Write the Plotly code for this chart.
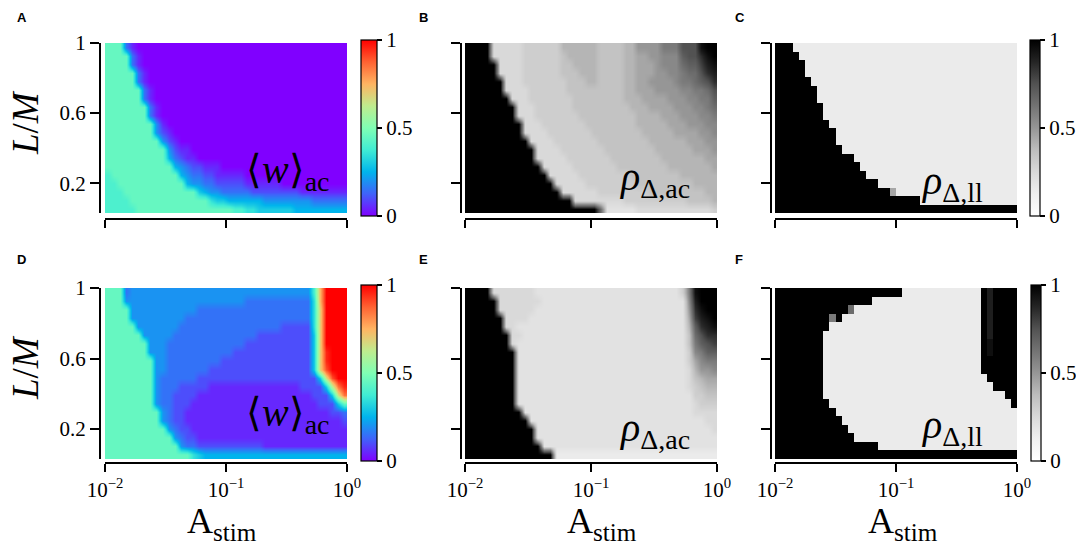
import numpy as np
import plotly.graph_objects as go

W, H = 1084, 544
OFF = 8  # the page puts the figure 8 px in from the top left corner
SERIF = "Liberation Serif"
SANS = "Liberation Sans"

# grid of the simulations: log10(A_stim) and L/M, cell edges
a_stim_edges = np.linspace(-2, 0, 41)
lm_edges = np.linspace(0.03, 1.0, 21)

x_ticks = ["10<sup>\u22122</sup>", "10<sup>\u22121</sup>", "10<sup>0</sup>"]
y_ticks = ["0.2", "0.6", "1"]
cbar_ticks = ["0", "0.5", "1"]

# cell values, rows from L/M = 1 (top) down to L/M ~ 0
# one character per cell, value = int(char, 36) / 20  ('0' -> 0, '9' -> 0.45, 'k' -> 1)
w_ac_top = [
    "9993100000 0000000000 0000000000 0000000000",
    "9999310000 0000000000 0000000000 0000000000",
    "9999310000 0000000000 0000000000 0000000000",
    "9999931000 0000000000 0000000000 0000000000",
    "9999931000 0000000000 0000000000 0000000000",
    "9999993100 0000000000 0000000000 0000000000",
    "9999993100 0000000000 0000000000 0000000000",
    "9999999310 0000000000 0000000000 0000000000",
    "9999999310 0000000000 0000000000 0000000000",
    "9999999941 0000000000 0000000000 0000000000",
    "9999999942 1000000000 0000000000 0000000000",
    "9999999994 2100000000 0000000000 0000000000",
    "9999999999 4211000000 0000000000 0000000000",
    "9999999999 5321100000 0000000000 0000000000",
    "9999999999 9543221110 0000000000 0000000000",
    "8999999999 9954332211 1110000000 0000000000",
    "8899999999 9995443322 2221111110 0000000000",
    "8889999999 9999965443 3333222222 2211111111",
    "8888999999 9999999766 5555554444 4444333333",
    "8888899999 9999999999 9887766666 6555555555",
]

rho_ac_top = [
    "kkkk555556 6666688888 8777788aaa acccfffjkk",
    "kkkk555556 6666678888 877778899a abbbeffhjk",
    "kkkkk55556 6666677888 8777788999 abbbdeegij",
    "kkkkk55556 6666677788 8777788999 aabbcddfhi",
    "kkkkkk5556 6666667778 877778899a aaabccdefh",
    "kkkkkk5555 6666667777 7777788999 aaaabbccdf",
    "kkkkkkk555 6666666777 7777788899 99aaabbcce",
    "kkkkkkkk55 5666666777 7777778889 999aaabbcd",
    "kkkkkkkk55 5666666677 7777777888 8999aaabbc",
    "kkkkkkkkk5 5566666667 7777777888 88999aaabb",
    "kkkkkkkkk5 5556666666 7777777788 8889999aab",
    "kkkkkkkkkk 5555666666 6777777778 88888999aa",
    "kkkkkkkkkk k555566666 6677777777 888888999a",
    "kkkkkkkkkk k555556666 6667777777 7888888899",
    "kkkkkkkkkk kk55555666 6666777777 7788888889",
    "kkkkkkkkkk kkk5555566 6666667777 7777888888",
    "kkkkkkkkkk kkkk555556 6666666777 7777778888",
    "kkkkkkkkkk kkkkk55555 5666666667 7777777788",
    "kkkkkkkkkk kkkkkkk555 5555566666 6666677778",
    "kkkkkkkkkk kkkkkkkkkk kd44444555 5555555556",
]

rho_ll_top = [
    "kkk3333333 3333333333 3333333333 3333333333",
    "kkkk333333 3333333333 3333333333 3333333333",
    "kkkkk33333 3333333333 3333333333 3333333333",
    "kkkkk33333 3333333333 3333333333 3333333333",
    "kkkkkk3333 3333333333 3333333333 3333333333",
    "kkkkkkk333 3333333333 3333333333 3333333333",
    "kkkkkkk333 3333333333 3333333333 3333333333",
    "kkkkkkkk33 3333333333 3333333333 3333333333",
    "kkkkkkkk33 3333333333 3333333333 3333333333",
    "kkkkkkkkk3 3333333333 3333333333 3333333333",
    "kkkkkkkkkk 3333333333 3333333333 3333333333",
    "kkkkkkkkkk 3333333333 3333333333 3333333333",
    "kkkkkkkkkk k333333333 3333333333 3333333333",
    "kkkkkkkkkk kkk3333333 3333333333 3333333333",
    "kkkkkkkkkk kkkk333333 3333333333 3333333333",
    "kkkkkkkkkk kkkkk33333 3333333333 3333333333",
    "kkkkkkkkkk kkkkkkk333 3333333333 3333333333",
    "kkkkkkkkkk kkkkkkkkk9 3333333333 3333333333",
    "kkkkkkkkkk kkkkkkkkkk kkkk333333 3333333333",
    "kkkkkkkkkk kkkkkkkkkk kkkkkkkkkk kkkkkkkkkk",
]

w_ac_bottom = [
    "9993444444 4444444444 4444444444 44448fkkkk",
    "9994444444 4444444444 4443333333 33337fkkkk",
    "9999444444 4444433333 3333333333 33337ekkkk",
    "9999444444 4443333333 3333333333 33337ekkkk",
    "9999944444 4433333333 3333333332 22227ekkkk",
    "9999994444 4333333333 3333322222 22226ekkkk",
    "9999999444 3333333333 3332222222 22226ekkkk",
    "9999999444 3333333333 3222222222 22226ejkkk",
    "9999999944 3333333332 2222222222 22226ejkkk",
    "9999999944 3333333222 2222222222 22226eikkk",
    "9999999943 3333322222 2222222222 222226dikk",
    "9999999943 3322222111 1111111111 1122226chj",
    "9999999943 3222211111 1111111111 11112226dh",
    "9999999943 3222111111 1111111111 1111122269",
    "9999999994 3221111111 1111111111 1111111223",
    "9999999994 3221111111 1111111111 1111111112",
    "9999999999 4322111111 1111111111 1111111111",
    "9999999999 9432211111 1111111111 1111111111",
    "9999999999 9943322222 2222221111 1111111111",
    "9999999999 9999765555 5555555555 5555555555",
]

rho_ac_bottom = [
    "kkkk555555 5444444444 4444444444 44446cjkkk",
    "kkkkk55555 5544444444 4444444444 44444bikkk",
    "kkkkk55555 5444444444 4444444444 44444ahjkk",
    "kkkkkk5555 4444444444 4444444444 444449gijk",
    "kkkkkk5544 4444444444 4444444444 444448ehij",
    "kkkkkkk554 4444444444 4444444444 444447dfhh",
    "kkkkkkk544 4444444444 4444444444 444447cefg",
    "kkkkkkkk44 4444444444 4444444444 444446bcee",
    "kkkkkkkk44 4444444444 4444444444 4444469bcc",
    "kkkkkkkk44 4444444444 4444444444 4444458aab",
    "kkkkkkkk44 4444444444 4444444444 4444457899",
    "kkkkkkkk44 4444444444 4444444444 4444456788",
    "kkkkkkkk44 4444444444 4444444444 4444446677",
    "kkkkkkkk44 4444444444 4444444444 4444445666",
    "kkkkkkkkk4 4444444444 4444444444 4444445555",
    "kkkkkkkkkk 4444444444 4444444444 4444444455",
    "kkkkkkkkkk k444444444 4444444444 4444444445",
    "kkkkkkkkkk k444444444 4444444444 4444444444",
    "kkkkkkkkkk kk44444444 4444444444 4444444444",
    "kkkkkkkkkk kkkk333333 3333333333 3333333333",
]

rho_ll_bottom = [
    "kkkkkkkkkk kkkkkkkkkk k333333333 3333kikkkk",
    "kkkkkkkkkk kkkkkk3333 3333333333 3333kikkkk",
    "kkkkkkkkkk kkd3333333 3333333333 3333kikkkk",
    "kkkkkkkkkc k333333333 3333333333 3333kikkkk",
    "kkkkkkkkk3 3333333333 3333333333 3333kikkkk",
    "kkkkkkkk33 3333333333 3333333333 3333kikkkk",
    "kkkkkkkk33 3333333333 3333333333 3333kjkkkk",
    "kkkkkkkk33 3333333333 3333333333 3333kjkkkk",
    "kkkkkkkk33 3333333333 3333333333 3333kkkkkk",
    "kkkkkkkk33 3333333333 3333333333 3333kkkkkk",
    "kkkkkkkk33 3333333333 3333333333 33333kkkkk",
    "kkkkkkkk33 3333333333 3333333333 333333kkkk",
    "kkkkkkkk33 3333333333 3333333333 33333333kk",
    "kkkkkkkkk3 3333333333 3333333333 333333333k",
    "kkkkkkkkkk 3333333333 3333333333 3333333333",
    "kkkkkkkkkk k333333333 3333333333 3333333333",
    "kkkkkkkkkk kk33333333 3333333333 3333333333",
    "kkkkkkkkkk kkk3333333 3333333333 3333333333",
    "kkkkkkkkkk kkkkkkk333 3333333333 3333333333",
    "kkkkkkkkkk kkkkkkkkkk kkkkkkkkkk kkkkkkkkkk",
]

rainbow = [[0, "rgb(128,0,255)"], [0.125, "rgb(64,98,250)"], [0.25, "rgb(0,180,236)"],
           [0.375, "rgb(64,236,212)"], [0.5, "rgb(128,255,180)"], [0.625, "rgb(191,236,142)"],
           [0.75, "rgb(255,180,98)"], [0.875, "rgb(255,98,50)"], [1, "rgb(255,0,0)"]]
greys = [[0, "#ffffff"], [0.125, "#f0f0f0"], [0.25, "#d9d9d9"], [0.375, "#bdbdbd"],
         [0.5, "#969696"], [0.625, "#737373"], [0.75, "#525252"], [0.875, "#252525"],
         [1, "#000000"]]


def decode(rows):
    z = []
    for r in rows[::-1]:
        s = r.replace(" ", "")
        assert len(s) == 40, s
        z.append([int(c, 36) / 20 for c in s])
    return z


def px(x):
    return (x - OFF) / W


def py(y):
    return 1 - (y - OFF) / H


# pixel layout of the page
cols_px = [(105, 347), (465, 717), (775, 1017)]
rows_px = [(43, 213), (288, 459)]
yspine_px = [100, 461, 771]
xspine_px = [219, 463]
cbar_rows_px = [(40, 216), (285, 461)]

rho_ac_lbl = "<i>\u03c1</i><sub>\u0394,ac</sub>"
rho_ll_lbl = "<i>\u03c1</i><sub>\u0394,ll</sub>"
w_lbl = "\u27e8<i>w</i>\u27e9<sub>ac</sub>"

panels = [
    dict(letter="A", rows=w_ac_top, cs=rainbow, col=0, row=0, text=w_lbl, tx=332, ty=172, cb=(361, 16), smooth="best"),
    dict(letter="B", rows=rho_ac_top, cs=greys, col=1, row=0, text=rho_ac_lbl, tx=692, ty=179, cb=None, smooth="best"),
    dict(letter="C", rows=rho_ll_top, cs=greys, col=2, row=0, text=rho_ll_lbl, tx=985, ty=183, cb=(1030, 10), smooth=False),
    dict(letter="D", rows=w_ac_bottom, cs=rainbow, col=0, row=1, text=w_lbl, tx=332, ty=415, cb=(361, 16), smooth="best"),
    dict(letter="E", rows=rho_ac_bottom, cs=greys, col=1, row=1, text=rho_ac_lbl, tx=692, ty=430, cb=None, smooth="best"),
    dict(letter="F", rows=rho_ll_bottom, cs=greys, col=2, row=1, text=rho_ll_lbl, tx=985, ty=427, cb=(1031, 10), smooth=False),
]
letter_px = {"A": (15, 17), "B": (417, 17), "C": (733, 17),
             "D": (15, 259), "E": (417, 259), "F": (733, 259)}

fig = go.Figure()
layout = dict(width=W, height=H, margin=dict(l=0, r=0, t=0, b=0, autoexpand=False),
              paper_bgcolor="white", plot_bgcolor="white", showlegend=False)
annotations = []

for i, p in enumerate(panels):
    k = "" if i == 0 else str(i + 1)
    x0, x1 = cols_px[p["col"]]
    y0, y1 = rows_px[p["row"]]
    colorbar = None
    if p["cb"]:
        cx, th = p["cb"]
        c0, c1 = cbar_rows_px[p["row"]]
        colorbar = dict(x=px(cx), xanchor="left", y=py((c0 + c1) / 2), yanchor="middle",
                        len=(c1 - c0) / H, lenmode="fraction", thickness=th, thicknessmode="pixels",
                        outlinewidth=1.2, outlinecolor="black", xpad=0, ypad=0,
                        ticks="outside", ticklen=5, tickwidth=1.5, tickcolor="black",
                        tickvals=[0, 0.5, 1], ticktext=cbar_ticks,
                        tickfont=dict(family=SERIF, size=21, color="black"))
    fig.add_trace(go.Heatmap(
        z=decode(p["rows"]), x=a_stim_edges, y=lm_edges, colorscale=p["cs"],
        zmin=0, zmax=1, zsmooth=p["smooth"], xaxis="x" + k, yaxis="y" + k,
        showscale=colorbar is not None, colorbar=colorbar, hoverinfo="skip"))

    layout["xaxis" + k] = dict(
        domain=[px(x0), px(x1)], range=[-2, 0], anchor="free", position=py(xspine_px[p["row"]]),
        showline=True, linewidth=2, linecolor="black", ticks="outside", ticklen=8, tickwidth=2,
        tickcolor="black", tickvals=[-2, -1, 0], ticktext=x_ticks, showticklabels=p["row"] == 1,
        tickfont=dict(family=SERIF, size=21, color="black"), showgrid=False, zeroline=False,
        fixedrange=True)
    layout["yaxis" + k] = dict(
        domain=[py(y1), py(y0)], range=[0.03, 1.0], anchor="free",
        position=px(yspine_px[p["col"]]), showline=True, linewidth=2, linecolor="black",
        ticks="outside", ticklen=9, tickwidth=2, tickcolor="black", tickvals=[0.2, 0.6, 1.0],
        ticktext=y_ticks, showticklabels=p["col"] == 0,
        tickfont=dict(family=SERIF, size=21, color="black"), showgrid=False, zeroline=False,
        fixedrange=True)

    annotations.append(dict(x=px(p["tx"]), y=py(p["ty"]), xref="paper", yref="paper",
                            xanchor="right", yanchor="middle", text=p["text"], showarrow=False,
                            font=dict(family=SERIF, size=40, color="black")))
    lx, ly = letter_px[p["letter"]]
    annotations.append(dict(x=px(lx), y=py(ly), xref="paper", yref="paper",
                            xanchor="left", yanchor="middle", text="<b>%s</b>" % p["letter"],
                            showarrow=False, font=dict(family=SANS, size=13, color="black")))

# axis titles
for cy in (123, 368):
    annotations.append(dict(x=px(25), y=py(cy), xref="paper", yref="paper", textangle=-90,
                            xanchor="center", yanchor="middle", text="<i>L</i>/<i>M</i>",
                            showarrow=False, borderpad=0,
                            font=dict(family=SERIF, size=37, color="black")))
for cx in (222, 602, 903):
    annotations.append(dict(x=px(cx), y=py(523), xref="paper", yref="paper",
                            xanchor="center", yanchor="middle", text="A<sub>stim</sub>",
                            showarrow=False, borderpad=0,
                            font=dict(family=SERIF, size=36, color="black")))

layout["annotations"] = annotations
fig.update_layout(**layout)
fig.write_html("out.html")
